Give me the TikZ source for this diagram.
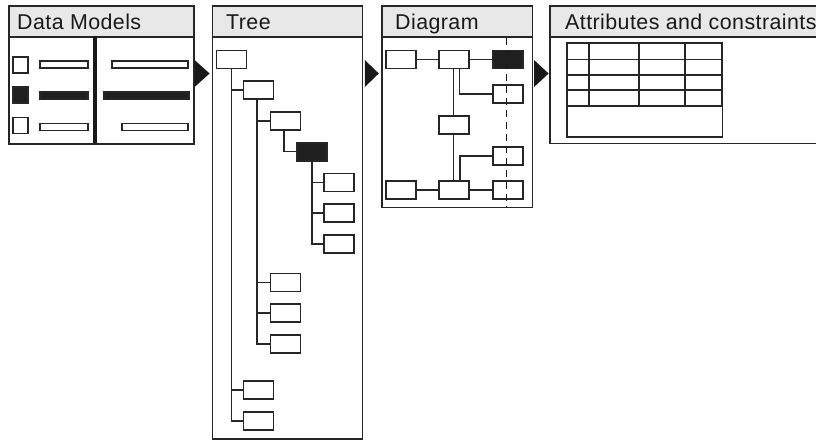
\documentclass[tikz,border=0pt]{standalone}
\usepackage{fontspec}
\setmainfont{Liberation Sans}
\newfontfamily\headfont[LetterSpace=2]{Liberation Sans}
\usetikzlibrary{
	calc,
	positioning,
	}

\tikzset{
	panel/.style={draw=black!85, line width=1.6pt, fill=white, anchor=north west, inner sep=0pt},
	head/.style={draw=black!85, line width=1.6pt, fill=black!9, anchor=north west, inner sep=0pt, minimum height=31pt},
	title/.style={anchor=base west, inner sep=0pt, font=\headfont\fontsize{21.4}{21.4}\selectfont, text=black!90},
	box/.style={draw=black!85, line width=1.6pt, fill=white, inner sep=0pt, minimum width=30pt, minimum height=18pt},
	dark/.style={box, fill=black!88},
	bar/.style={box, minimum height=7pt},
	edge/.style={draw=black!85, line width=1.5pt},
	guide/.style={draw=black!90, line width=1.4pt, dash pattern=on 7pt off 5pt},
	cell/.style={draw=black!85, line width=1.6pt},
	pointer/.style={fill=black!90},
}

\begin{document}
\begin{tikzpicture}[x=1pt, y=-1pt]
	\useasboundingbox (0,0) rectangle (816,439);
	\clip (0,0) rectangle (816,439);

	% panels with their title bars
	\node[panel, minimum width=185pt, minimum height=138pt] (models) at (8,5) {};
	\node[head, minimum width=185pt] (modelshead) at (models.north west) {};
	\node[title] at (17,29.3) {Data Models};

	\node[panel, minimum width=150pt, minimum height=433pt] (tree) at (211.7,5) {};
	\node[head, minimum width=150pt] (treehead) at (tree.north west) {};
	\node[title] at (226,29.3) {Tree};

	\node[panel, minimum width=150.7pt, minimum height=201.7pt] (diagram) at (381,5) {};
	\node[head, minimum width=150.7pt] (diagramhead) at (diagram.north west) {};
	\node[title] at (395,29.3) {Diagram};

	\node[panel, minimum width=281pt, minimum height=137.7pt] (attrs) at (549,5) {};
	\node[head, minimum width=281pt] (attrshead) at (attrs.north west) {};
	\node[title] at (565,29.3) {Attributes and constraints};

	% pointers between the panels
	\fill[pointer] (models.north east) ++(0,55) -- ++(15,13.5) -- ++(-15,13.5) -- cycle;
	\fill[pointer] (tree.north east) ++(1.5,55) -- ++(14,13.5) -- ++(-14,13.5) -- cycle;
	\fill[pointer] (diagram.north east) ++(0.8,55) -- ++(14.5,13.5) -- ++(-14.5,13.5) -- cycle;

	% data models
	\draw[black!90, line width=4.5pt] (95,36) -- (95,143);
	\node[box, minimum width=15pt, minimum height=16pt] (sq1) at (20.3,65) {};
	\node[dark, minimum width=15pt, minimum height=16pt] (sq2) at (20.3,95) {};
	\node[box, minimum width=15pt, minimum height=16pt] (sq3) at (20.3,125.5) {};
	\node[bar, minimum width=48pt] (la) at (64,64.5) {};
	\node[bar, dark, minimum height=7pt, minimum width=48pt] (lb) at (64,95.5) {};
	\node[bar, minimum width=48pt] (lc) at (64,127) {};
	\node[bar, minimum width=76pt] (ra) at (150,64.5) {};
	\node[bar, dark, minimum height=7pt, minimum width=85pt] (rb) at (146.5,95.5) {};
	\node[bar, minimum width=66pt] (rc) at (155,127) {};

	% tree
	\node[box] (t0) at (231.3,59.5) {};
	\node[box] (t1) at (258.5,90) {};
	\node[box] (t2) at (285.3,121) {};
	\node[dark] (t3) at (312.2,151.7) {};
	\node[box] (t4) at (339,182.3) {};
	\node[box] (t5) at (339,213) {};
	\node[box] (t6) at (339,243.8) {};
	\node[box] (t7) at (285.3,282.5) {};
	\node[box] (t8) at (285.3,313) {};
	\node[box] (t9) at (285.3,343.8) {};
	\node[box] (t10) at (258.5,390) {};
	\node[box] (t11) at (258.5,420.8) {};
	\foreach \c in {t1,t10,t11}
		\draw[edge] (t0.south) |- (\c.west);
	\foreach \c in {t2,t7,t8,t9}
		\draw[edge] ([xshift=-1.5pt]t1.south) |- (\c.west);
	\draw[edge] ([xshift=-1.5pt]t2.south) |- (t3.west);
	\foreach \c in {t4,t5,t6}
		\draw[edge] (t3.south) |- (\c.west);

	% diagram
	\node[box] (a) at (400.7,59.5) {};
	\node[box] (b) at (454,59.5) {};
	\node[dark] (c) at (508,59.5) {};
	\node[box] (d) at (508,94.2) {};
	\node[box] (e) at (454,124.8) {};
	\node[box] (f) at (508,155.8) {};
	\node[box] (g) at (400.7,190.2) {};
	\node[box] (h) at (454,190.2) {};
	\node[box] (i) at (508,190.2) {};
	\draw[edge] (a) -- (b);
	\draw[edge] (b) -- (c);
	\draw[edge] (g) -- (h);
	\draw[edge] (h) -- (i);
	\draw[edge] ([xshift=-0.7pt]b.south) -- ([xshift=-0.7pt]e.north);
	\draw[edge] ([xshift=-0.7pt]e.south) -- ([xshift=-0.7pt]h.north);
	\draw[edge] ([xshift=5.5pt]b.south) |- (d.west);
	\draw[edge] ([xshift=6pt]h.north) |- (f.west);
	\draw[guide] (506.7,38) -- (506.7,206.7);

	% attribute table
	\foreach \y in {59.3,75,90}
		\draw[cell] (566.7,\y) -- (722.3,\y);
	\foreach \x in {589,639,685}
		\draw[cell] (\x,42) -- (\x,106);
	\draw[black!85, line width=2.3pt] (566.7,43.3) rectangle (722.3,106);
	\draw[black!85, line width=1.6pt] (566.7,106) rectangle (722.3,136.7);
\end{tikzpicture}
\end{document}
